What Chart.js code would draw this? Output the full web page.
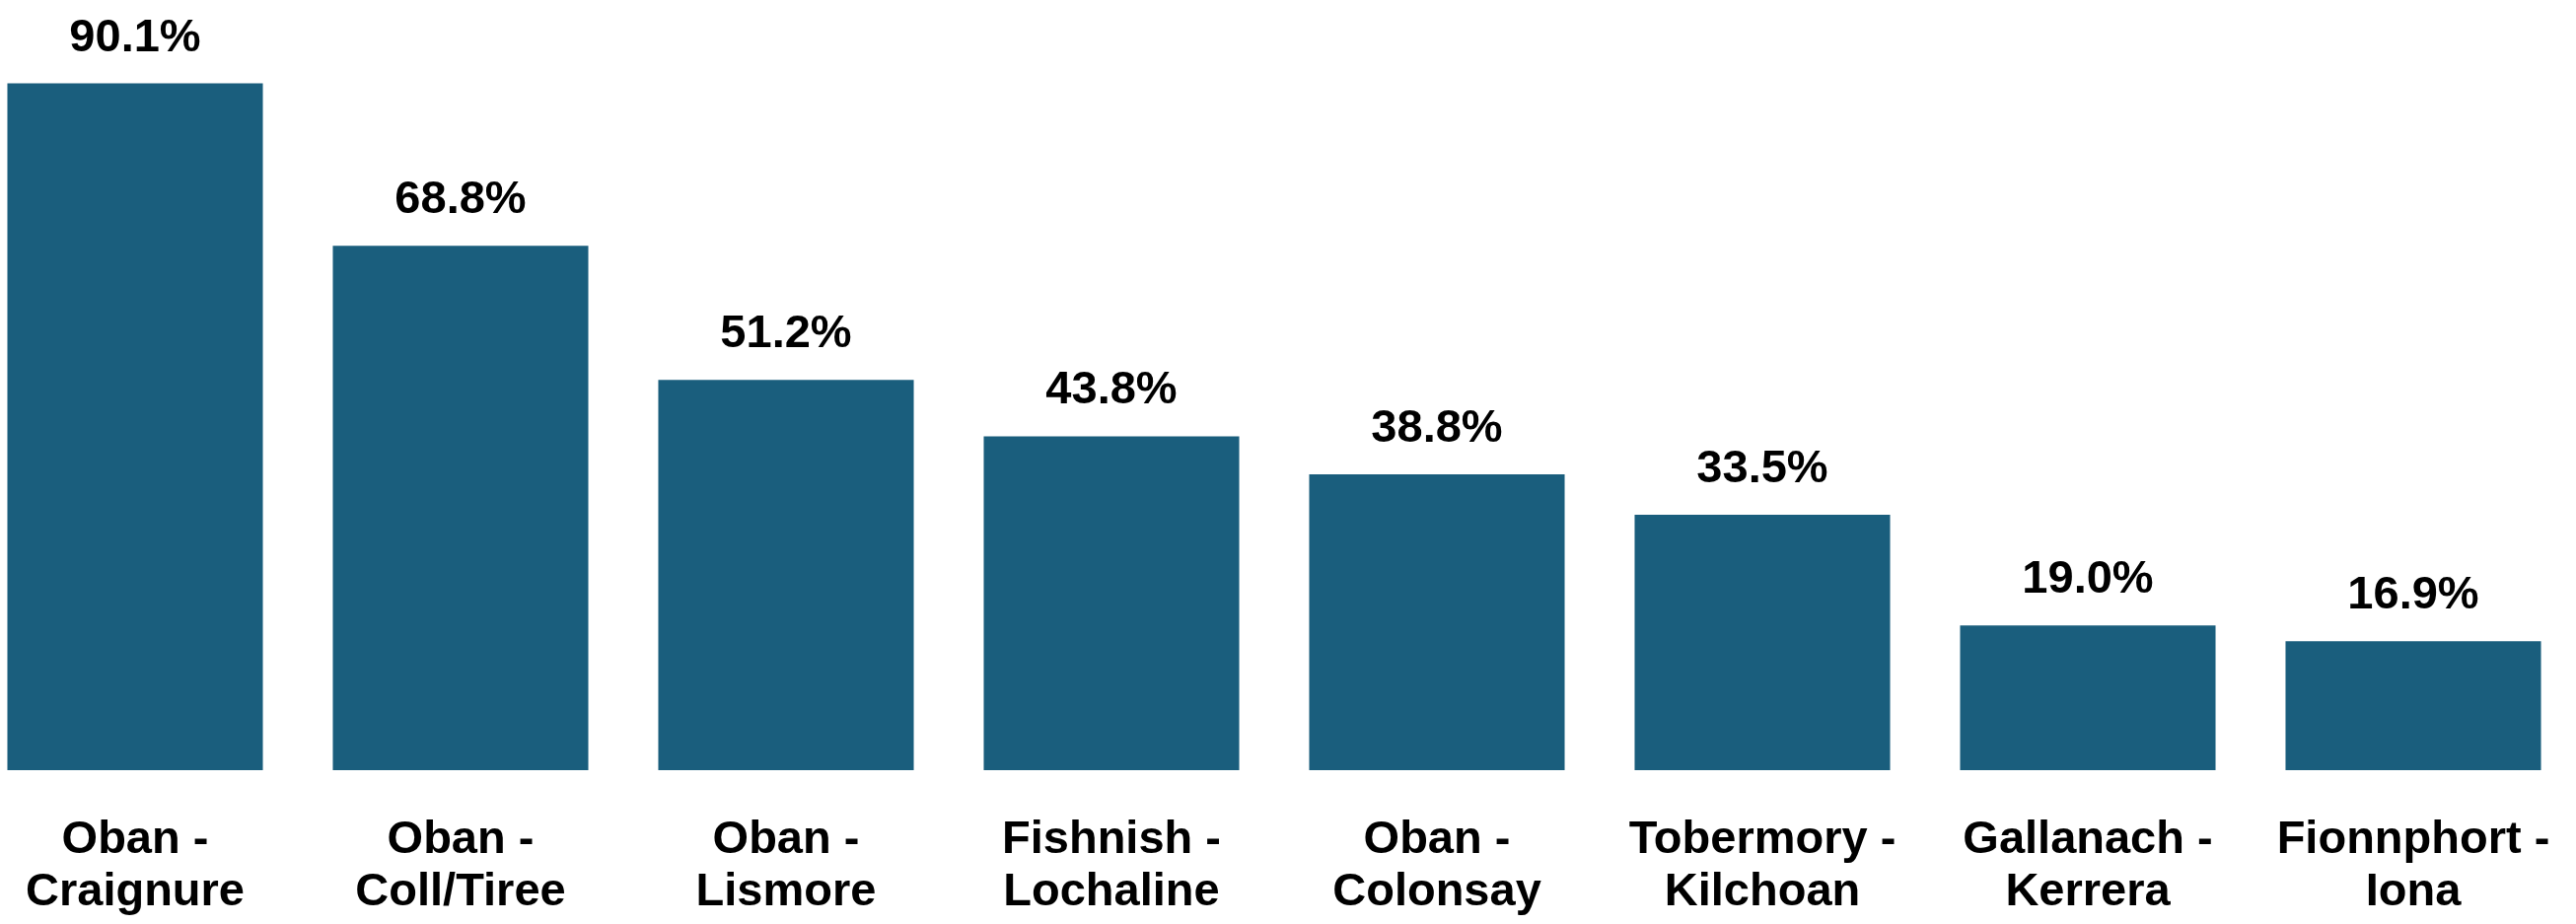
<!DOCTYPE html>
<html>
<head>
<meta charset="utf-8">
<script src="https://cdn.jsdelivr.net/npm/chart.js@4/dist/chart.umd.min.js"></script>
<style>
    html, body { margin: 0; padding: 0; background: #fff; overflow: hidden; }
    #wrap { position: absolute; left: -28px; top: 0; width: 2640px; height: 937px; }
</style>
</head>
<body>
<div id="wrap"><canvas id="ferryChart"></canvas></div>
<script>
// Route names (two lines each) and share values
const routes = [
    ['Oban -', 'Craignure'],
    ['Oban -', 'Coll/Tiree'],
    ['Oban -', 'Lismore'],
    ['Fishnish -', 'Lochaline'],
    ['Oban -', 'Colonsay'],
    ['Tobermory -', 'Kilchoan'],
    ['Gallanach -', 'Kerrera'],
    ['Fionnphort -', 'Iona']
];
const shares = [90.1, 68.8, 51.2, 43.8, 38.8, 33.5, 19.0, 16.9];

const fontFamily = '"Liberation Sans", Arial, sans-serif';

// Draw value labels above each bar
const valueLabels = {
    id: 'valueLabels',
    afterDatasetsDraw(chart) {
        const ctx = chart.ctx;
        const meta = chart.getDatasetMeta(0);
        ctx.save();
        ctx.font = 'bold 47px ' + fontFamily;
        ctx.fillStyle = '#000';
        ctx.textAlign = 'center';
        ctx.textBaseline = 'alphabetic';
        meta.data.forEach((bar, i) => {
            ctx.fillText(shares[i].toFixed(1) + '%', bar.x, bar.y - 33);
        });
        ctx.restore();
    }
};

new Chart(document.getElementById('ferryChart').getContext('2d'), {
    type: 'bar',
    data: {
        labels: routes,
        datasets: [{
            data: shares,
            backgroundColor: '#1a5e7d',
            borderWidth: 0,
            categoryPercentage: 1,
            barPercentage: 0.785
        }]
    },
    options: {
        responsive: true,
        maintainAspectRatio: false,
        animation: false,
        layout: { padding: { top: 8, bottom: 7, left: 0, right: 0 } },
        plugins: {
            legend: { display: false },
            tooltip: { enabled: false }
        },
        scales: {
            y: {
                display: false,
                min: 0,
                max: 100
            },
            x: {
                grid: { display: false, drawTicks: false },
                border: { display: false },
                ticks: {
                    color: '#000',
                    padding: 45,
                    maxRotation: 0,
                    autoSkip: false,
                    font: { family: fontFamily, size: 47, weight: 'bold', lineHeight: 1.128 }
                },
                afterFit(scale) {
                    // fixed axis band, no extra side padding
                    scale.height = 149;
                    scale.paddingLeft = 0;
                    scale.paddingRight = 0;
                }
            }
        }
    },
    plugins: [valueLabels]
});
</script>
</body>
</html>
